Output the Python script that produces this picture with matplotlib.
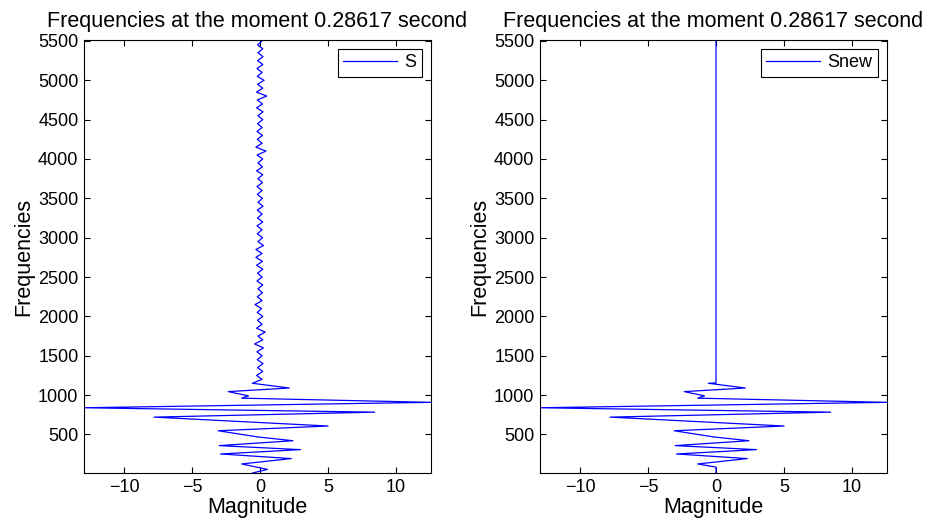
import matplotlib
matplotlib.use("Agg")
import matplotlib.pyplot as plt
import numpy as np

plt.rcParams["font.family"] = ["Liberation Sans", "DejaVu Sans"]

# turning points of S below ~1250 Hz (frequency in Hz, magnitude)
low_freq = [10, 56, 125, 193, 252, 307, 358, 420, 468, 480, 547, 607, 720, 783,
            839, 908, 961, 990, 1044, 1090, 1150, 1200]
low_mag = [-0.55, 0.54, -1.35, 2.30, -2.90, 2.97, -3.00, 2.42, -0.15, -0.60, -3.08, 5.00,
           -7.79, 8.43, -12.94, 12.57, -1.35, -0.85, -2.33, 2.15, -0.56, 0.15]

# small ripple of S above 1250 Hz
high_freq = [1250, 1300, 1350, 1400, 1450, 1500, 1550, 1600, 1650, 1700,
             1750, 1800, 1850, 1900, 1950, 2000, 2050, 2100, 2150, 2200,
             2250, 2300, 2350, 2400, 2450, 2500, 2550, 2600, 2650, 2700,
             2750, 2800, 2850, 2900, 2950, 3000, 3050, 3100, 3150, 3200,
             3250, 3300, 3350, 3400, 3450, 3500, 3550, 3600, 3650, 3700,
             3750, 3800, 3850, 3900, 3950, 4000, 4050, 4100, 4150, 4200,
             4250, 4300, 4350, 4400, 4450, 4500, 4550, 4600, 4650, 4700,
             4750, 4800, 4850, 4900, 4950, 5000, 5050, 5100, 5150, 5200,
             5250, 5300, 5350, 5400, 5450, 5500, 5512]
high_mag = [-0.25, 0.20, -0.18, 0.22, -0.20, 0.15, -0.22, 0.25, -0.40, 0.20,
            -0.15, 0.38, -0.25, 0.15, -0.18, 0.20, -0.20, 0.12, -0.37, 0.15,
            -0.20, 0.18, -0.15, 0.20, -0.22, 0.15, -0.18, 0.20, -0.25, 0.18,
            -0.30, 0.15, -0.30, 0.25, -0.15, 0.18, -0.20, 0.15, -0.22, 0.20,
            -0.18, 0.15, -0.20, 0.22, -0.15, 0.18, -0.20, 0.15, -0.22, 0.18,
            -0.15, 0.20, -0.25, 0.18, -0.15, 0.20, -0.22, 0.44, -0.30, 0.15,
            -0.20, 0.18, -0.22, 0.15, -0.18, 0.20, -0.15, 0.22, -0.25, 0.18,
            -0.20, 0.49, -0.25, 0.20, -0.18, 0.30, -0.20, 0.15, -0.22, 0.20,
            -0.18, 0.22, -0.15, 0.20, -0.18, 0.15, 0.0]

s_freq = low_freq + high_freq
s_mag = low_mag + high_mag

# Snew keeps only the band between the two cut-offs
low_cut = 85
high_cut = 1155
band = [(f, m) for f, m in zip(low_freq, low_mag) if low_cut < f < high_cut]
snew_freq = [10, low_cut] + [f for f, _ in band] + [high_cut, 5512]
snew_mag = [0, 0] + [m for _, m in band] + [0, 0]

title = "Frequencies at the moment 0.28617 second"
xlim = (min(s_mag), max(s_mag))


def draw_panel(ax, mag, freq, label):
    ax.plot(mag, freq, color=(0, 0, 1), linewidth=0.9, label=label)
    ax.set_xlim(xlim)
    ax.set_ylim(10, 5512)
    ax.set_yticks(np.arange(500, 5501, 500))
    ax.set_xticks([-10, -5, 0, 5, 10])
    ax.set_xticklabels(["\u221210", "\u22125", "0", "5", "10"])
    ax.tick_params(direction="in", length=4, width=0.8, top=True, right=True,
                   labelsize=13, pad=4)
    for sp in ax.spines.values():
        sp.set_linewidth(0.8)
    ax.set_title(title, fontsize=15.5, pad=9)
    ax.set_xlabel("Magnitude", fontsize=15.5, labelpad=1)
    ax.set_ylabel("Frequencies", fontsize=15.5, labelpad=3)
    leg = ax.legend(loc="upper right", fontsize=13, fancybox=False, framealpha=1,
                    edgecolor="black", handlelength=3.0, borderaxespad=0.5,
                    borderpad=0.3, handletextpad=0.4)
    leg.get_frame().set_linewidth(0.8)


fig = plt.figure(figsize=(9.25, 5.28), dpi=100)
ax1 = fig.add_axes([84 / 925, 1 - 473 / 528, 347 / 925, 433 / 528])
ax2 = fig.add_axes([540 / 925, 1 - 473 / 528, 347 / 925, 433 / 528])

draw_panel(ax1, s_mag, s_freq, "S")
draw_panel(ax2, snew_mag, snew_freq, "Snew")

fig.savefig("out.png", dpi=100)
